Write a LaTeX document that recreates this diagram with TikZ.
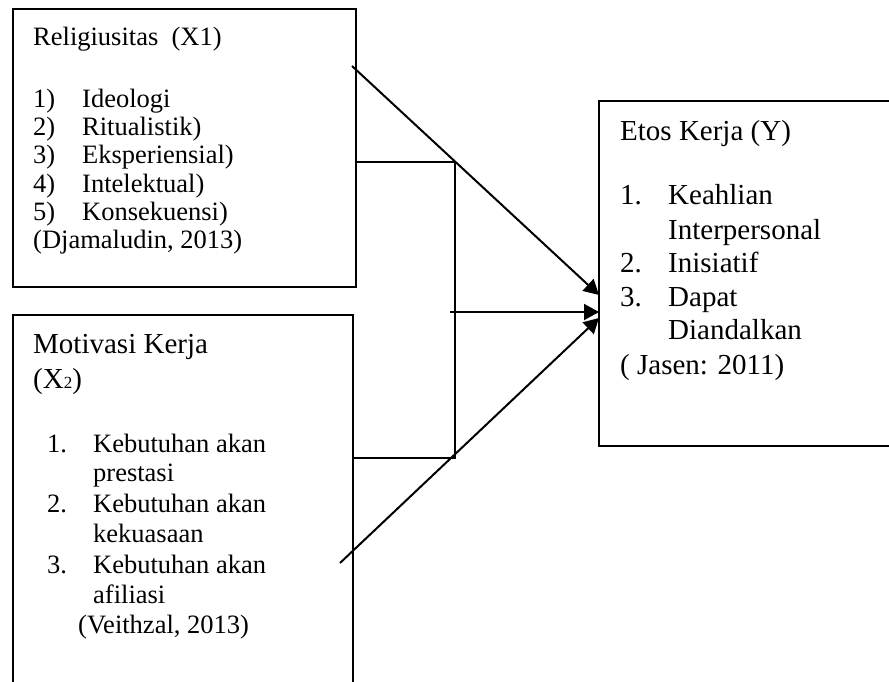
\documentclass[tikz,border=0pt]{standalone}
\usepackage{fontspec}
\setmainfont{Liberation Serif}
\usetikzlibrary{arrows.meta}
\tikzset{
  box/.style={draw, line width=1.7pt, inner sep=0pt, outer sep=0pt, anchor=north west},
  txt/.style={anchor=base west, inner sep=0pt},
  arr/.style={line width=2pt, -{Triangle[length=15pt,width=16pt]}},
}
\begin{document}
\begin{tikzpicture}[x=1pt, y=-1pt, line join=miter]
	\clip (0,0) rectangle (889,681);
	% boxes
	\node[box, minimum width=343pt, minimum height=278pt] (x1) at (13,9) {};
	\node[box, minimum width=340pt, minimum height=420pt] (x2) at (13,315) {};
	\node[box, minimum width=330pt, minimum height=345pt] (y) at (599,101) {};
	% religiusitas
	\begin{scope}[font=\fontsize{26.5}{28}\selectfont]
		\node[txt] (x1t) at (33,45) {Religiusitas~ (X1)};
		\node[txt] (x1n1) at (33,107) {1)};  \node[txt] (x1a) at (82,107) {Ideologi};
		\node[txt] (x1n2) at (33,135) {2)};  \node[txt] (x1b) at (82,135) {Ritualistik)};
		\node[txt] (x1n3) at (33,163) {3)};  \node[txt] (x1c) at (82,163) {Eksperiensial)};
		\node[txt] (x1n4) at (33,192) {4)};  \node[txt] (x1d) at (82,192) {Intelektual)};
		\node[txt] (x1n5) at (33,220) {5)};  \node[txt] (x1e) at (82,220) {Konsekuensi)};
		\node[txt] (x1s) at (33,248) {(Djamaludin, 2013)};
	\end{scope}
	% motivasi kerja
	\node[txt, font=\fontsize{29}{30}\selectfont] (x2t) at (33,353) {Motivasi Kerja};
	\node[txt, font=\fontsize{29}{30}\selectfont] (x2v) at (33,388) {(X{\fontsize{17}{17}\selectfont 2})};
	\begin{scope}[font=\fontsize{26.5}{28}\selectfont]
		\node[txt] (x2n1) at (47,452) {1.};  \node[txt] (x2a) at (93,452) {Kebutuhan akan};
		\node[txt] (x2a2) at (93,481) {prestasi};
		\node[txt] (x2n2) at (47,512) {2.};  \node[txt] (x2b) at (93,512) {Kebutuhan akan};
		\node[txt] (x2b2) at (93,542) {kekuasaan};
		\node[txt] (x2n3) at (47,573) {3.};  \node[txt] (x2c) at (93,573) {Kebutuhan akan};
		\node[txt] (x2c2) at (93,603) {afiliasi};
		\node[txt] (x2s) at (78,633) {(Veithzal, 2013)};
	\end{scope}
	% etos kerja
	\begin{scope}[font=\fontsize{29}{30}\selectfont]
		\node[txt] (yt) at (620,140) {Etos Kerja (Y)};
		\node[txt] (yn1) at (620,204) {1.};  \node[txt] (ya) at (668,204) {Keahlian};
		\node[txt] (ya2) at (668,239) {Interpersonal};
		\node[txt] (yn2) at (620,272) {2.};  \node[txt] (yb) at (668,272) {Inisiatif};
		\node[txt] (yn3) at (620,306) {3.};  \node[txt] (yc) at (668,306) {Dapat};
		\node[txt] (yc2) at (668,339) {Diandalkan};
		\node[txt] (ys) at (620,374) {( Jasen: 2011)};
	\end{scope}
	% connectors
	\coordinate (s1) at (352,66);
	\coordinate (s2) at (450,312);
	\coordinate (s3) at (340,563);
	\coordinate (j1) at (455,162);
	\coordinate (j2) at (455,458);
	\coordinate (t1) at (599,295);
	\coordinate (t2) at (599,312);
	\coordinate (t3) at (599,318);
	\draw[line width=1.7pt] (x1.east |- j1) -- (j1) -- (j2) -- (x2.east |- j2);
	\draw[arr] (s1) -- (t1);
	\draw[arr] (s2) -- (t2);
	\draw[arr] (s3) -- (t3);
\end{tikzpicture}
\end{document}
